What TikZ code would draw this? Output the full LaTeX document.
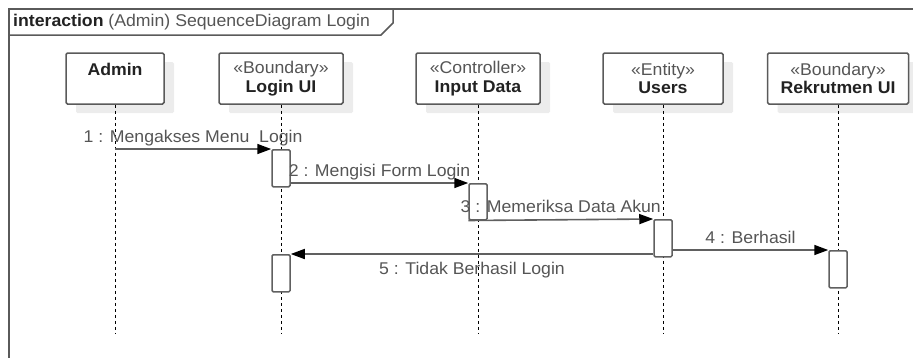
\documentclass[tikz,border=0pt]{standalone}
\usepackage{fontspec}
\setmainfont{Liberation Sans}[FakeStretch=1.04]
\usetikzlibrary{arrows.meta,shadows}
\definecolor{framegray}{HTML}{5A5A5A}
\definecolor{linegray}{HTML}{606060}
\definecolor{textgray}{HTML}{555555}
\definecolor{namegray}{HTML}{222222}
\definecolor{shadowgray}{HTML}{ECECEC}
\begin{document}
\begin{tikzpicture}[x=1pt,y=-1pt]
                    \tikzstyle{every node}+=[inner sep=0pt]
                    \tikzstyle{headbox}=[draw=framegray, line width=1.5pt, fill=white, rounded corners=1.5pt, minimum height=51pt, align=center, text=namegray, font=\fontsize{17}{18.5}\selectfont, general shadow={fill=shadowgray, shadow xshift=10pt, shadow yshift=-9pt}]
                    \tikzstyle{actbox}=[draw=linegray, line width=1.5pt, fill=white, rounded corners=1.2pt, minimum width=18pt, minimum height=37pt, anchor=north]
                    \tikzstyle{lifeline}=[black, line width=1pt, dash pattern=on 3pt off 3pt]
                    \tikzstyle{msg}=[draw=linegray, line width=1.6pt, -{Triangle[length=14pt,width=10pt,color=black]}]
                    \tikzstyle{msglabel}=[text=textgray, font=\fontsize{17}{18.5}\selectfont, text height=12.5pt, text depth=3.6pt, inner sep=2.5pt]
                    \clip (0,0) rectangle (913,357);
                    \draw [framegray, line width=1.5pt] (9,380) -- (9,9) -- (930,9);
                    \draw [framegray, line width=1.5pt] (9,35) -- (381,35) -- (393,23) -- (393,9);
                    \node [anchor=west, text=textgray, font=\fontsize{17}{18.5}\selectfont] (title) at (13,22) {\textcolor{namegray}{\textbf{interaction}} (Admin) SequenceDiagram Login};
                    \node [headbox, minimum width=98pt] (admin) at (115,78.5) {\textbf{Admin}\\\mbox{}};
                    \node [headbox, minimum width=124pt] (loginui) at (281,78.5) {\textcolor{textgray}{«Boundary»}\\\textbf{Login UI}};
                    \node [headbox, minimum width=124pt] (inputdata) at (478,78.5) {\textcolor{textgray}{«Controller»}\\\textbf{Input Data}};
                    \node [headbox, minimum width=120pt] (users) at (663,78.5) {\textcolor{textgray}{«Entity»}\\\textbf{Users}};
                    \node [headbox, minimum width=141pt] (rekrutmen) at (838,78.5) {\textcolor{textgray}{«Boundary»}\\\textbf{Rekrutmen UI}};
                    \coordinate (bottom) at (0,333);
                    \foreach \n in {admin,loginui,inputdata,users,rekrutmen}
                        \draw [lifeline] (\n.south) -- (\n.south |- bottom);
                    \node [actbox] (act1) at (281,149) {};
                    \node [actbox, minimum height=36pt] (act2) at (478,183) {};
                    \node [actbox] (act3) at (663,219) {};
                    \node [actbox] (act4) at (838,250) {};
                    \node [actbox] (act5) at (281,254) {};
                    \draw [msg] (admin.south |- act1.north) -- (act1.north west) node [midway, above, msglabel] {1 : Mengakses Menu\ \ Login};
                    \draw [msg] (act1.east |- act2.north) -- (act2.north west) node [midway, above, msglabel] {2 : Mengisi Form Login};
                    \draw [msg] (act2.south west) -- (act3.north west) node [midway, above, msglabel] {3 : Memeriksa Data Akun};
                    \draw [msg] (act3.east |- act4.north) -- (act4.north west) node [midway, above, msglabel] {4 : Berhasil};
                    \draw [msg] (act3.west |- act5.north) -- (act5.north east) node [midway, below=5pt, msglabel] {5 : Tidak Berhasil Login};
                \end{tikzpicture}
\end{document}
